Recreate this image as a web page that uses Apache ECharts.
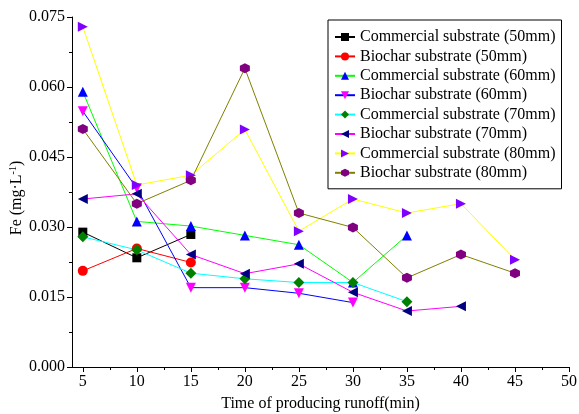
<!DOCTYPE html>
<html>
<head>
<meta charset="utf-8">
<script src="https://cdn.jsdelivr.net/npm/echarts@6/dist/echarts.min.js"></script>
<style>html,body{margin:0;padding:0;background:#fff}#c{width:579px;height:414px}</style>
</head>
<body>
<div id="c"></div>
<script>
var times = [5, 10, 15, 20, 25, 30, 35, 40, 45];
var xMajorTicks = [5, 10, 15, 20, 25, 30, 35, 40, 45, 50];
var xMinorTicks = [7.5, 12.5, 17.5, 22.5, 27.5, 32.5, 37.5, 42.5, 47.5];
var seriesNames = [
  'Commercial substrate (50mm)', 'Biochar substrate (50mm)',
  'Commercial substrate (60mm)', 'Biochar substrate (60mm)',
  'Commercial substrate (70mm)', 'Biochar substrate (70mm)',
  'Commercial substrate (80mm)', 'Biochar substrate (80mm)'
];
var comm50 = [0.0289, 0.0234, 0.0284];
var bio50 = [0.0206, 0.0254, 0.0224];
var comm60 = [0.0590, 0.0312, 0.0302, 0.0282, 0.0262, 0.0181, 0.0282];
var bio60 = [0.0548, 0.0383, 0.0170, 0.0170, 0.0158, 0.0138];
var comm70 = [0.0279, 0.0251, 0.0201, 0.0189, 0.0181, 0.0181, 0.0140];
var bio70 = [0.0360, 0.0371, 0.0241, 0.0200, 0.0221, 0.0160, 0.0120, 0.0130];
var comm80 = [0.0729, 0.0390, 0.0411, 0.0509, 0.0291, 0.0360, 0.0330, 0.0350, 0.0230];
var bio80 = [0.0510, 0.0350, 0.0400, 0.0640, 0.0330, 0.0299, 0.0191, 0.0241, 0.0201];

var allValues = [comm50, bio50, comm60, bio60, comm70, bio70, comm80, bio80];
var lineColors = ['#000000', '#ff0000', '#00ff00', '#0000ff', '#00ffff', '#ff00ff', '#ffff00', '#808000'];
var markColors = ['#000000', '#ff0000', '#0000ff', '#ff00ff', '#008000', '#000080', '#8000ff', '#800080'];
var hexagon = 'path://M0,-1 L0.866,-0.5 L0.866,0.5 L0,1 L-0.866,0.5 L-0.866,-0.5 Z';
var symbols = ['rect', 'circle', 'triangle', 'triangle', 'diamond', 'triangle', 'triangle', hexagon];
var rotates = [0, 0, 0, 180, 0, 90, -90, 0];
var sizes = [9, 10, 10, 10, 11, 10, 10, 10];

var FONT = '"Liberation Serif", "Times New Roman", serif';

var series = allValues.map(function (vals, i) {
  return {
    name: seriesNames[i],
    type: 'line',
    xAxisIndex: 0,
    data: vals.map(function (v, j) { return [times[j], v]; }),
    symbol: symbols[i],
    symbolRotate: rotates[i],
    symbolSize: sizes[i],
    showAllSymbol: true,
    lineStyle: { color: lineColors[i], width: 1 },
    itemStyle: { color: markColors[i] },
    emphasis: { disabled: true },
    animation: false
  };
});

var chart = echarts.init(document.getElementById('c'), null, { renderer: 'canvas' });
chart.setOption({
  backgroundColor: '#ffffff',
  animation: false,
  grid: { left: 72, right: 10, top: 17, bottom: 47, containLabel: false, outerBoundsMode: 'none' },
  legend: {
    orient: 'vertical',
    left: 328,
    top: 20,
    backgroundColor: '#ffffff',
    borderColor: '#000000',
    borderWidth: 1,
    borderRadius: 0,
    padding: [9, 6, 8, 6],
    itemWidth: 20,
    itemHeight: 10,
    itemGap: 3.4,
    textStyle: { fontFamily: FONT, fontSize: 16, color: '#000000', lineHeight: 16 },
    data: seriesNames
  },
  xAxis: [{
    type: 'value',
    min: 4,
    max: 50,
    name: 'Time of producing runoff(min)',
    nameLocation: 'middle',
    nameGap: 29,
    nameTextStyle: { fontFamily: FONT, fontSize: 16, color: '#000000' },
    axisLine: { show: true, onZero: false, lineStyle: { color: '#000000', width: 1 } },
    axisTick: { show: true, customValues: xMajorTicks, length: 5, lineStyle: { color: '#000000' } },
    axisLabel: { customValues: xMajorTicks, fontFamily: FONT, fontSize: 16, color: '#000000', margin: 7 },
    splitLine: { show: false }
  }, {
    type: 'value',
    min: 4,
    max: 50,
    position: 'bottom',
    axisLine: { show: false },
    axisTick: { show: true, customValues: xMinorTicks, length: 3, lineStyle: { color: '#000000' } },
    axisLabel: { show: false, customValues: xMinorTicks },
    splitLine: { show: false }
  }],
  yAxis: {
    type: 'value',
    min: 0,
    max: 0.075,
    interval: 0.015,
    name: 'Fe (mg·L{sup|-1})',
    nameLocation: 'middle',
    nameGap: 46,
    nameMoveOverlap: false,
    nameRotate: 90,
    nameTextStyle: {
      fontFamily: FONT, fontSize: 16, color: '#000000',
      padding: [0, 12, 0, 0],
      rich: { sup: { fontFamily: FONT, fontSize: 10, verticalAlign: 'top', padding: [0, 0, 8, 0] } }
    },
    axisLine: { show: true, lineStyle: { color: '#000000', width: 1 } },
    axisTick: { show: true, length: 5, lineStyle: { color: '#000000' } },
    minorTick: { show: true, splitNumber: 2, length: 3, lineStyle: { color: '#000000' } },
    axisLabel: {
      fontFamily: FONT, fontSize: 16, color: '#000000', margin: 7,
      formatter: function (v) { return v.toFixed(3); }
    },
    splitLine: { show: false },
    minorSplitLine: { show: false }
  },
  series: series
});
</script>
</body>
</html>
